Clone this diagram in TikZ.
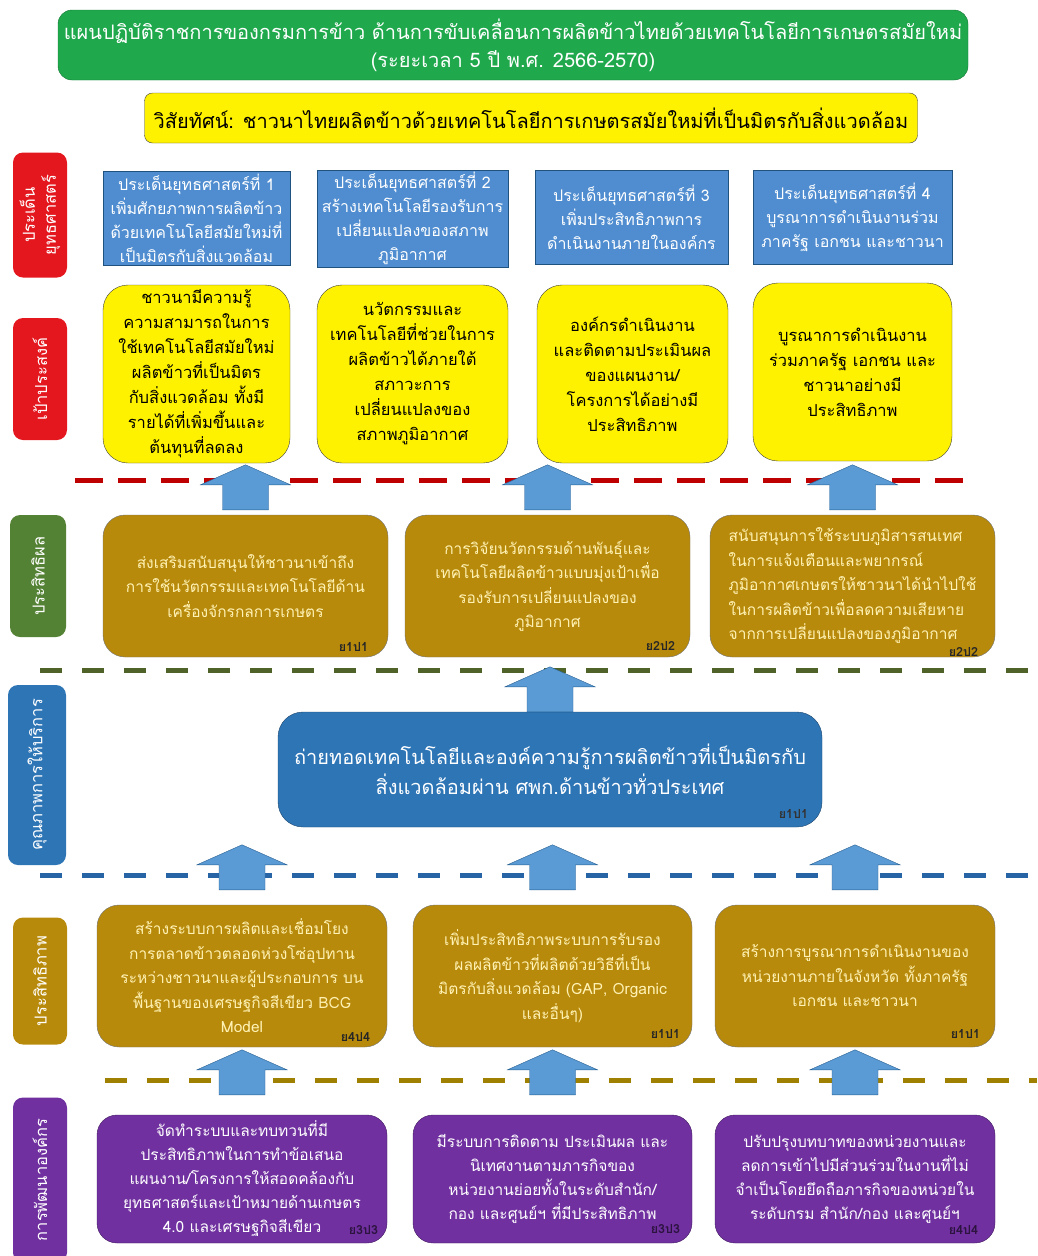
\documentclass[tikz,border=0pt]{standalone}
\usepackage{fontspec}
\newfontfamily\thai[Script=Thai]{Loma}
\usepackage{tikz}
\usetikzlibrary{positioning, calc}

\definecolor{headgreen}{RGB}{31,168,76}
\definecolor{issueblue}{RGB}{79,141,208}
\definecolor{arrowblue}{RGB}{91,155,213}
\definecolor{svcblue}{RGB}{46,117,182}
\definecolor{goldbox}{RGB}{184,138,12}
\definecolor{goldtext}{RGB}{255,242,180}
\definecolor{devpurple}{RGB}{112,48,160}
\definecolor{tagred}{RGB}{228,22,30}
\definecolor{taggreen}{RGB}{84,130,53}
\definecolor{lineGreen}{RGB}{79,98,40}
\definecolor{lineBlue}{RGB}{38,100,165}
\definecolor{lineGold}{RGB}{160,128,0}

\newcommand{\fs}[2]{\thai\fontsize{#1}{#2}\selectfont}

\begin{document}
\begin{tikzpicture}[x=1pt, y=-1pt,
  every node/.style={align=center, inner sep=2pt},
  tag/.style={rotate=90, rounded corners=10pt, text=white, minimum height=54pt, font=\fs{16.5}{21}},
  issue/.style={draw=svcblue!70!black, fill=issueblue, text=white, minimum height=94pt, font=\fs{16}{24}},
  goal/.style={draw=black!75, fill=yellow, rounded corners=25pt, minimum height=178pt, font=\fs{16.5}{25}},
  plan/.style={draw=black!55, fill=goldbox, text=goldtext, rounded corners=22pt, minimum height=142pt, font=\fs{15.5}{24.5}},
  dev/.style={draw=devpurple!60!black, fill=devpurple, text=white, rounded corners=20pt, minimum height=128pt, font=\fs{15.5}{24}},
  code/.style={anchor=south east, inner sep=0pt, font=\fs{12.5}{14}\bfseries},
  sep/.style={line width=5pt, dash pattern=on 22pt off 20pt},
  blockup/.pic={\draw[draw=svcblue!80!black, fill=arrowblue]
    (-23,0) -- (-23,-25) -- (-45,-25) -- (0,-45) -- (45,-25) -- (23,-25) -- (23,0) -- cycle;}]
  \useasboundingbox (0,0) rectangle (1037,1256);

  % title and vision
  \node[draw=headgreen!70!black, fill=headgreen, text=white, rounded corners=14pt,
    minimum width=910pt, minimum height=70pt, font=\fs{20}{28}] (head) at (513,45)
    {แผนปฏิบัติราชการของกรมการข้าว ด้านการขับเคลื่อนการผลิตข้าวไทยด้วยเทคโนโลยีการเกษตรสมัยใหม่\\(ระยะเวลา 5 ปี พ.ศ. 2566-2570)};
  \node[draw=black!75, fill=yellow, rounded corners=8pt, minimum width=773pt, minimum height=50pt,
    font=\fs{20}{24}] (vision) at (531,118)
    {วิสัยทัศน์: ชาวนาไทยผลิตข้าวด้วยเทคโนโลยีการเกษตรสมัยใหม่ที่เป็นมิตรกับสิ่งแวดล้อม};

  % row tags
  \node[tag, fill=tagred, minimum width=125pt] (tIssue) at (40,215) {ประเด็น\\ยุทธศาสตร์};
  \node[tag, fill=tagred, minimum width=122pt] (tGoal) at (40,379) {เป้าประสงค์};
  \node[tag, fill=taggreen, minimum width=122pt, minimum height=56pt] (tResult) at (38,576) {ประสิทธิผล};
  \node[tag, fill=svcblue, minimum width=180pt, minimum height=58pt] (tService) at (37,775) {คุณภาพการให้บริการ};
  \node[tag, fill=goldbox, minimum width=127pt] (tEffic) at (40,981) {ประสิทธิภาพ};
  \node[tag, fill=devpurple, minimum width=165pt] (tDev) at (40,1180) {การพัฒนาองค์กร};

  % strategic issues
  \node[issue, minimum width=187pt] (s1) at (196.5,218.5) {ประเด็นยุทธศาสตร์ที่ 1\\เพิ่มศักยภาพการผลิตข้าว\\ด้วยเทคโนโลยีสมัยใหม่ที่\\เป็นมิตรกับสิ่งแวดล้อม};
  \node[issue, minimum width=191pt] (s2) at (412.5,218.5) {ประเด็นยุทธศาสตร์ที่ 2\\สร้างเทคโนโลยีรองรับการ\\เปลี่ยนแปลงของสภาพ\\ภูมิอากาศ};
  \node[issue, minimum width=193pt] (s3) at (631.5,217.5) {ประเด็นยุทธศาสตร์ที่ 3\\เพิ่มประสิทธิภาพการ\\ดำเนินงานภายในองค์กร};
  \node[issue, minimum width=199pt] (s4) at (852.5,217.5) {ประเด็นยุทธศาสตร์ที่ 4\\บูรณาการดำเนินงานร่วม\\ภาครัฐ เอกชน และชาวนา};

  % goals
  \node[goal, minimum width=187pt] (g1) at (196.5,374) {ชาวนามีความรู้\\ความสามารถในการ\\ใช้เทคโนโลยีสมัยใหม่\\ผลิตข้าวที่เป็นมิตร\\กับสิ่งแวดล้อม ทั้งมี\\รายได้ที่เพิ่มขึ้นและ\\ต้นทุนที่ลดลง};
  \node[goal, minimum width=191pt] (g2) at (412.5,374) {นวัตกรรมและ\\เทคโนโลยีที่ช่วยในการ\\ผลิตข้าวได้ภายใต้\\สภาวะการ\\เปลี่ยนแปลงของ\\สภาพภูมิอากาศ};
  \node[goal, minimum width=191pt] (g3) at (632.5,374) {องค์กรดำเนินงาน\\และติดตามประเมินผล\\ของแผนงาน/\\โครงการได้อย่างมี\\ประสิทธิภาพ};
  \node[goal, minimum width=199pt] (g4) at (852.5,372) {บูรณาการดำเนินงาน\\ร่วมภาครัฐ เอกชน และ\\ชาวนาอย่างมี\\ประสิทธิภาพ};

  % separators
  \draw[sep, draw=red!75!black, dash pattern=on 28pt off 15pt] (75,480) -- (968,480);
  \draw[sep, draw=lineGreen] (40,670) -- (1030,670);
  \draw[sep, draw=lineBlue] (40,875) -- (1030,875);
  \draw[sep, draw=lineGold] (105,1080) -- (1037,1080);

  % effectiveness
  \node[plan, minimum width=285pt] (e1) at (245.5,586) {ส่งเสริมสนับสนุนให้ชาวนาเข้าถึง\\การใช้นวัตกรรมและเทคโนโลยีด้าน\\เครื่องจักรกลการเกษตร};
  \node[plan, minimum width=285pt] (e2) at (547.5,586) {การวิจัยนวัตกรรมด้านพันธุ์และ\\เทคโนโลยีผลิตข้าวแบบมุ่งเป้าเพื่อ\\รองรับการเปลี่ยนแปลงของ\\ภูมิอากาศ};
  \node[plan, minimum width=285pt, align=left] (e3) at (852.5,586) {สนับสนุนการใช้ระบบภูมิสารสนเทศ\\ในการแจ้งเตือนและพยากรณ์\\ภูมิอากาศเกษตรให้ชาวนาได้นำไปใช้\\ในการผลิตข้าวเพื่อลดความเสียหาย\\จากการเปลี่ยนแปลงของภูมิอากาศ};

  % service quality
  \node[draw=svcblue!60!black, fill=svcblue, text=white, rounded corners=25pt, minimum width=544pt,
    minimum height=115pt, font=\fs{20}{30}] (svc) at (550,769.5)
    {ถ่ายทอดเทคโนโลยีและองค์ความรู้การผลิตข้าวที่เป็นมิตรกับ\\สิ่งแวดล้อมผ่าน ศพก.ด้านข้าวทั่วประเทศ};

  % efficiency
  \node[plan, minimum width=290pt] (f1) at (242,976) {สร้างระบบการผลิตและเชื่อมโยง\\การตลาดข้าวตลอดห่วงโซ่อุปทาน\\ระหว่างชาวนาและผู้ประกอบการ บน\\พื้นฐานของเศรษฐกิจสีเขียว BCG\\Model};
  \node[plan, minimum width=279pt] (f2) at (552.5,976) {เพิ่มประสิทธิภาพระบบการรับรอง\\ผลผลิตข้าวที่ผลิตด้วยวิธีที่เป็น\\มิตรกับสิ่งแวดล้อม (GAP, Organic\\และอื่นๆ)};
  \node[plan, minimum width=280pt] (f3) at (855,976) {สร้างการบูรณาการดำเนินงานของ\\หน่วยงานภายในจังหวัด ทั้งภาครัฐ\\เอกชน และชาวนา};

  % organisation development
  \node[dev, minimum width=290pt] (o1) at (242,1179) {จัดทำระบบและทบทวนที่มี\\ประสิทธิภาพในการทำข้อเสนอ\\แผนงาน/โครงการให้สอดคล้องกับ\\ยุทธศาสตร์และเป้าหมายด้านเกษตร\\4.0 และเศรษฐกิจสีเขียว};
  \node[dev, minimum width=279pt] (o2) at (552.5,1179) {มีระบบการติดตาม ประเมินผล และ\\นิเทศงานตามภารกิจของ\\หน่วยงานย่อยทั้งในระดับสำนัก/\\กอง และศูนย์ฯ ที่มีประสิทธิภาพ};
  \node[dev, minimum width=280pt] (o3) at (855,1179) {ปรับปรุงบทบาทของหน่วยงานและ\\ลดการเข้าไปมีส่วนร่วมในงานที่ไม่\\จำเป็นโดยยึดถือภารกิจของหน่วยใน\\ระดับกรม สำนัก/กอง และศูนย์ฯ};

  % codes
  \node[code, text=black!85] at ($(e1.south east)+(-20,-6)$) {ย1ป1};
  \node[code, text=black!85] at ($(e2.south east)+(-15,-7)$) {ย2ป2};
  \node[code, text=black!85] at ($(e3.south east)+(-17,-1)$) {ย2ป2};
  \node[code, text=black!80] at ($(svc.south east)+(-14,-9)$) {ย1ป1};
  \node[code, text=black!85] at ($(f1.south east)+(-17,-6)$) {ย4ป4};
  \node[code, text=black!85] at ($(f2.south east)+(-12,-9)$) {ย1ป1};
  \node[code, text=black!85] at ($(f3.south east)+(-15,-9)$) {ย1ป1};
  \node[code, text=devpurple!40!black] at ($(o1.south east)+(-9,-8)$) {ย3ป3};
  \node[code, text=devpurple!40!black] at ($(o2.south east)+(-12,-9)$) {ย3ป3};
  \node[code, text=devpurple!40!black] at ($(o3.south east)+(-17,-9)$) {ย4ป4};

  % upward arrows
  \foreach \n in {e1,e2,e3} \pic at ($(\n.north)+(0,-5)$) {blockup};
  \pic at (svc.north) {blockup};
  \foreach \n in {f1,f2,f3} \pic at ($(\n.north)+(0,-15)$) {blockup};
  \foreach \n in {o1,o2,o3} \pic at ($(\n.north)+(0,-20)$) {blockup};
\end{tikzpicture}
\end{document}
